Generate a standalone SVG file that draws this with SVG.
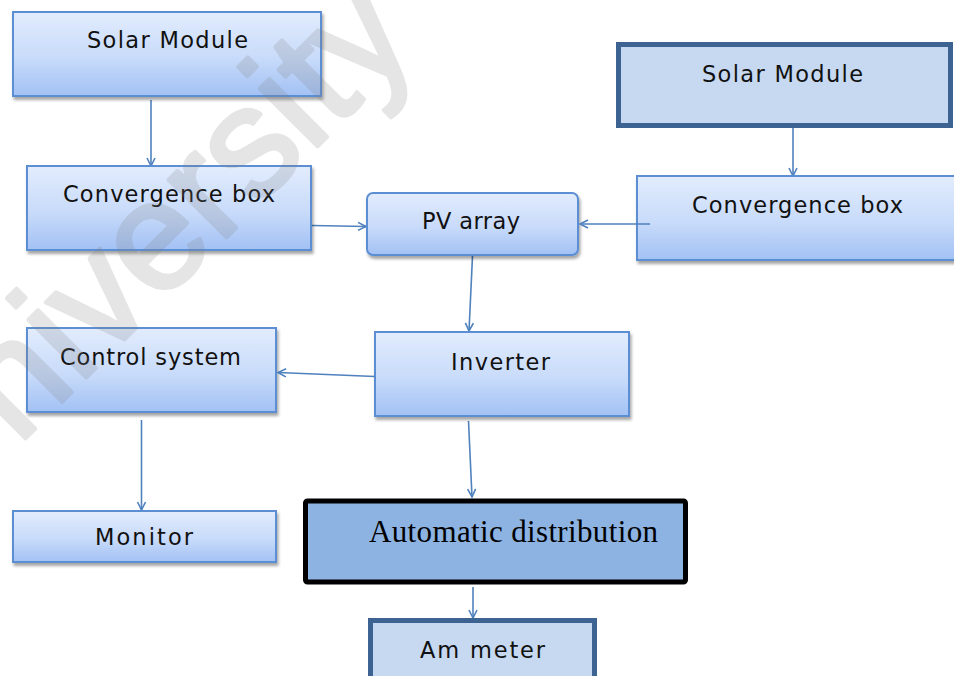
<svg xmlns="http://www.w3.org/2000/svg" width="954" height="676" viewBox="0 0 954 676">
  <defs>
    <linearGradient id="boxFill" x1="0" y1="0" x2="0" y2="1">
      <stop offset="0" stop-color="#e2ecfd"/>
      <stop offset="0.55" stop-color="#c8dbfa"/>
      <stop offset="1" stop-color="#a2c1f4"/>
    </linearGradient>
    <filter id="shadow" x="-5%" y="-10%" width="115%" height="130%">
      <feDropShadow dx="1.5" dy="3" stdDeviation="1.4" flood-color="#000" flood-opacity="0.35"/>
    </filter>
    <marker id="arrow" markerUnits="userSpaceOnUse" markerWidth="12" markerHeight="12" refX="9" refY="5" orient="auto">
      <path d="M1,1 L9,5 L1,9" fill="none" stroke="#4f81bd" stroke-width="1.6"/>
    </marker>
  </defs>
  <style>
    .box { fill: url(#boxFill); stroke: #5b8ed3; stroke-width: 2; filter: url(#shadow); }
    .solid { fill: #c6d9f1; stroke: #3c6392; stroke-width: 5; }
    .dist { fill: #8db3e2; stroke: #000; stroke-width: 5; }
    .lbl { font-family: "DejaVu Sans", "Liberation Sans", sans-serif; font-size: 22.5px; fill: #111; }
    .serif { font-family: "Liberation Serif", "Times New Roman", serif; font-size: 31px; fill: #000; }
    .conn { fill: none; stroke: #4f81bd; stroke-width: 1.6; marker-end: url(#arrow); }
    .mark { font-family: "Liberation Sans", Arial, sans-serif; font-size: 155px; fill: #808080; stroke: #808080; stroke-width: 4; stroke-linejoin: round; }
  </style>

  <rect width="954" height="676" fill="#fff"/>

  <!-- connectors -->
  <g id="connectors">
    <path class="conn" d="M151,100 L151,166"/>
    <path class="conn" d="M312,225.5 L366,226.5"/>
    <path class="conn" d="M793,128 L793,176"/>
    <path class="conn" d="M472.5,256 L469,331"/>
    <path class="conn" d="M141.5,420 L141.5,510"/>
    <path class="conn" d="M468.5,421 L472,497"/>
    <path class="conn" d="M473,587 L473,618"/>
  </g>

  <g id="solar-left">
    <rect class="box" x="13" y="12" width="308" height="84"/>
    <text class="lbl" x="87" y="48" textLength="161" lengthAdjust="spacing">Solar Module</text>
  </g>

  <g id="convergence-left">
    <rect class="box" x="27" y="166" width="284" height="84"/>
    <text class="lbl" x="63" y="202" textLength="212" lengthAdjust="spacing">Convergence box</text>
  </g>

  <g id="pv-array">
    <rect class="box" x="367" y="193" width="211" height="62" rx="6"/>
    <text class="lbl" x="422" y="229" textLength="98" lengthAdjust="spacing">PV array</text>
  </g>

  <g id="solar-right">
    <rect class="solid" x="618.5" y="44.5" width="332" height="81"/>
    <text class="lbl" x="702" y="82" textLength="161" lengthAdjust="spacing">Solar Module</text>
  </g>

  <g id="convergence-right">
    <rect class="box" x="637" y="176" width="330" height="84"/>
    <text class="lbl" x="692" y="213" textLength="211" lengthAdjust="spacing">Convergence box</text>
  </g>

  <!-- feed from the right convergence box into the PV array -->
  <path class="conn" d="M650,224 L580,224"/>

  <g id="inverter">
    <rect class="box" x="375" y="332" width="254" height="84"/>
    <text class="lbl" x="451" y="370" textLength="99" lengthAdjust="spacing">Inverter</text>
  </g>

  <g id="control-system">
    <rect class="box" x="27" y="328" width="249" height="84"/>
    <text class="lbl" x="60" y="365" textLength="181" lengthAdjust="spacing">Control system</text>
  </g>

  <!-- inverter to control system -->
  <path class="conn" d="M375,376.5 L278,372.5"/>

  <g id="monitor">
    <rect class="box" x="13" y="511" width="263" height="51"/>
    <text class="lbl" x="95" y="545" textLength="98" lengthAdjust="spacing">Monitor</text>
  </g>

  <g id="automatic-distribution">
    <rect class="dist" x="305.5" y="501" width="380" height="81" rx="2"/>
    <text class="serif" x="369" y="542" textLength="289" lengthAdjust="spacing">Automatic distribution</text>
  </g>

  <g id="am-meter">
    <rect class="solid" x="370.5" y="620.5" width="224" height="70"/>
    <text class="lbl" x="420" y="658" textLength="125" lengthAdjust="spacing">Am meter</text>
  </g>

  <!-- faint diagonal watermark, composited once so fill and stroke blend evenly -->
  <g id="watermark" opacity="0.2">
    <text class="mark" transform="translate(18,446) rotate(-45)">niversity</text>
  </g>
</svg>
